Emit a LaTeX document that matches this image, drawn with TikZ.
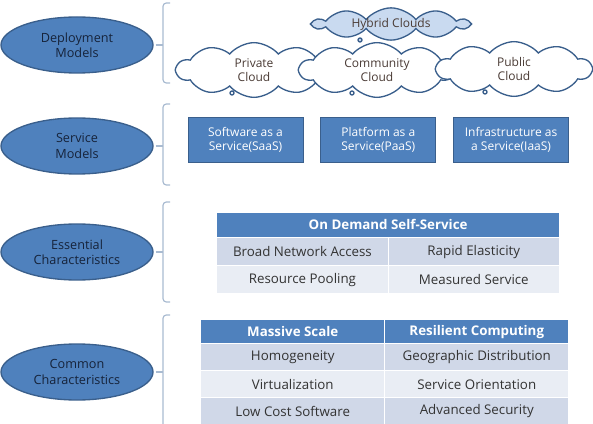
\documentclass[tikz,border=0pt]{standalone}
\usepackage{fontspec}
\setmainfont{Open Sans}
\usetikzlibrary{positioning}
\usetikzlibrary{matrix}
\usetikzlibrary{shapes.geometric}
\usetikzlibrary{shapes.symbols}
\usetikzlibrary{shapes.callouts}
\definecolor{modelblue}{HTML}{4F81BD}
\definecolor{modelline}{HTML}{3A5F8C}
\definecolor{modeltext}{HTML}{16233A}
\definecolor{bracegray}{HTML}{A9BBD1}
\definecolor{cellA}{HTML}{D0D8E8}
\definecolor{cellB}{HTML}{E9EDF4}
\definecolor{hybridfill}{HTML}{C9DAF0}
\definecolor{cloudtext}{HTML}{4A3B35}
\tikzset{
        model/.style={ellipse, draw=modelline, line width=1pt, fill=modelblue,
          text=modeltext, align=center, font=\fontsize{9.5}{11.5}\selectfont,
          minimum width=114pt, minimum height=42pt, inner sep=0pt},
        brace/.style={draw=bracegray, line width=0.9pt, rounded corners=2.5pt},
        puff/.style={cloud callout, cloud puffs=10, cloud puff arc=100, cloud ignores aspect,
          draw=modelline, line width=1pt, fill=white, text=cloudtext, align=center,
          font=\fontsize{9}{10.5}\selectfont, minimum width=116pt, minimum height=41pt, inner sep=0pt,
          callout pointer start size=5pt, callout pointer end size=3pt, callout pointer segments=1},
        servicebox/.style={rectangle, draw=modelline, line width=0.6pt, fill=modelblue,
          text=white, align=center, font=\fontsize{9}{11}\selectfont,
          minimum width=86.25pt, minimum height=33.75pt, inner sep=0pt},
        head/.style={fill=modelblue, text=white, font=\fontsize{10}{12}\selectfont\bfseries},
        grid table/.style={
          matrix of nodes, inner sep=0pt,
          column sep=0.75pt, row sep=0.75pt,
          nodes={anchor=center, inner sep=0pt, text=black!80, font=\fontsize{10}{12}\selectfont}
          },
}
\begin{document}
\begin{tikzpicture}[x=0.75pt, y=-0.75pt]
      \useasboundingbox (0,0) rectangle (593,424);
      \coordinate (bx) at (163,0);

      % MODEL ELLIPSES
      \node[model] (deploy) at (77,45) {Deployment\\Models};
      \node[model] (service) at (77,146) {Service\\Models};
      \node[model] (essential) at (77,252) {Essential\\Characteristics};
      \node[model] (common) at (77,372) {Common\\Characteristics};

      % BRACKETS
      \draw[brace] (170,3) -- (bx |- 0,3) -- (bx |- 0,83) -- (170,83);
      \draw[brace] (170,104) -- (bx |- 0,104) -- (bx |- 0,185) -- (170,185);
      \draw[brace] (170,202) -- (bx |- 0,202) -- (bx |- 0,302) -- (170,302);
      \draw[brace] (170,315) -- (bx |- 0,315) -- (bx |- 0,430);
      \draw[brace] ([xshift=1.5pt]deploy.east) -- (deploy.east -| bx);
      \draw[brace] ([xshift=1.5pt]service.east) -- (service.east -| bx);
      \draw[brace] ([xshift=1.5pt]essential.east) -- (essential.east -| bx);
      \draw[brace] ([xshift=1.5pt]common.east) -- (common.east -| bx);

      % DEPLOYMENT CLOUDS
      \node[puff, fill=hybridfill, minimum height=22pt, callout absolute pointer={(360,40)}] (hybrid) at (391,24) {Hybrid Clouds};
      \node[puff, callout absolute pointer={(232,93)}] (private) at (254,70) {Private\\Cloud};
      \node[puff, callout absolute pointer={(352,93)}] (community) at (377,70) {Community\\Cloud};
      \node[puff, callout absolute pointer={(485,92)}] (public) at (514,69) {Public\\Cloud};

      % SERVICE MODELS
      \node[servicebox] (saas) at (245.5,140) {Software as a\\Service(SaaS)};
      \node[servicebox, right=12.75pt of saas] (paas) {Platform as a\\Service(PaaS)};
      \node[servicebox, right=12.75pt of paas] (iaas) {Infrastructure as\\a Service(IaaS)};

      % ESSENTIAL CHARACTERISTICS
      \matrix[grid table, anchor=north west,
        nodes={minimum width=127.75pt, minimum height=20.25pt},
        row 1/.style={nodes={fill=cellA}},
        row 2/.style={nodes={fill=cellB}}] (esstab) at (217,238) {
        Broad Network Access  &  Rapid Elasticity \\
        Resource Pooling      &  Measured Service \\
      };
      \node[head, minimum width=256.25pt, minimum height=18pt, inner sep=0pt, above=0.75pt of esstab] (esshead) {On Demand Self-Service};

      % COMMON CHARACTERISTICS
      \matrix[grid table, anchor=north west,
        nodes={minimum width=137.25pt, minimum height=19.5pt},
        row 1/.style={nodes={head, minimum height=17.25pt}},
        row 2/.style={nodes={fill=cellA}},
        row 3/.style={nodes={fill=cellB}},
        row 4/.style={nodes={fill=cellA}}] (comtab) at (201,320) {
        Massive Scale       &  Resilient Computing \\
        Homogeneity         &  Geographic Distribution \\
        Virtualization      &  Service Orientation \\
        Low Cost Software   &  Advanced Security \\
      };
\end{tikzpicture}
\end{document}
